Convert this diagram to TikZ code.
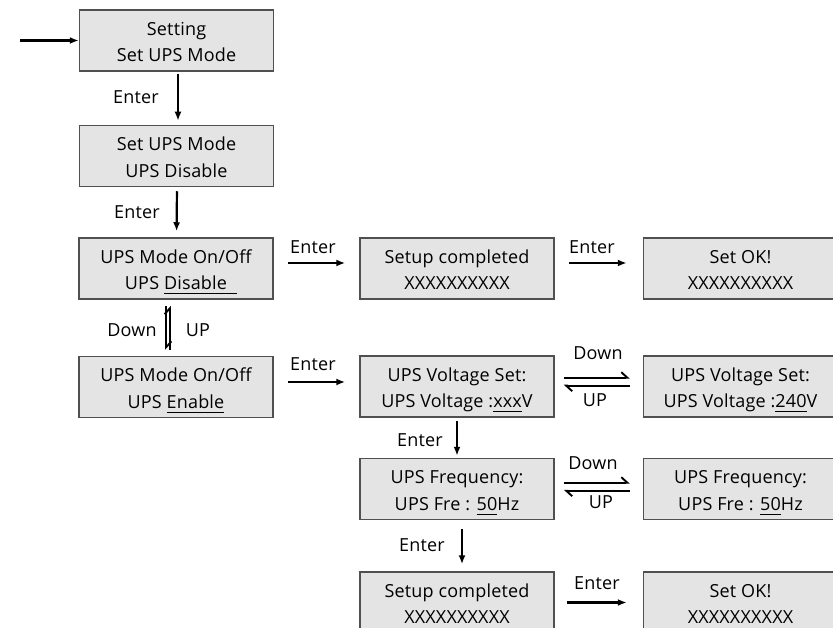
\documentclass[tikz,border=0pt]{standalone}
\usepackage{fontspec}
\setmainfont{Open Sans}[LetterSpace=1]
\usetikzlibrary{arrows.meta}
\definecolor{boxfill}{HTML}{E4E4E4}
\definecolor{boxline}{HTML}{505050}
\newcommand\ulbar[2][0pt]{\setbox0\hbox{#2}\rlap{\rule[-4.7pt]{\dimexpr\wd0+#1\relax}{1.4pt}}\box0}
\newcommand\topstrut{\rule{0pt}{22pt}}
\newcommand\botstrut{\rule[-6pt]{0pt}{6pt}}
\begin{document}
\begin{tikzpicture}[x=1pt,y=-1pt,
  screen/.style={draw=boxline, fill=boxfill, line width=1.5pt, minimum width=194pt,
    minimum height=61pt, inner sep=0pt, align=center, font=\fontsize{18}{26.5}\selectfont},
  arr/.style={line width=2.2pt, -{Latex[length=9pt,width=7pt]}},
  harp/.style={line width=1.9pt, -{Straight Barb[left,length=6pt,width=11pt]}},
  lbl/.style={font=\fontsize{18}{20}\selectfont, inner sep=0pt}]
\useasboundingbox (0,0) rectangle (833,628);
\clip (0,0) rectangle (833,628);
% screens
\node[screen] (b1) at (176.5,40.5) {\topstrut Setting\\Set UPS Mode\botstrut};
\node[screen] (b2) at (176.5,156) {\topstrut Set UPS Mode\\UPS Disable\botstrut};
\node[screen] (b3) at (176,268.5) {\topstrut UPS Mode On/Off\\UPS \ulbar[10pt]{Disable}\botstrut};
\node[screen] (b4) at (176,387) {\topstrut UPS Mode On/Off\\UPS \ulbar{Enable}\botstrut};
\node[screen] (b5) at (457,268.5) {\topstrut Setup completed\\XXXXXXXXXX\botstrut};
\node[screen] (b6) at (740.5,268.5) {\topstrut Set OK!\\XXXXXXXXXX\botstrut};
\node[screen] (b7) at (457,386.5) {\topstrut UPS Voltage Set:\\UPS Voltage :\ulbar{xxx}V\botstrut};
\node[screen] (b8) at (740.5,386.5) {\topstrut UPS Voltage Set:\\UPS Voltage :\ulbar{240}V\botstrut};
\node[screen] (b9) at (457,489) {\topstrut UPS Frequency:\\UPS Fre : \ulbar{50}Hz\botstrut};
\node[screen] (b10) at (740.5,489) {\topstrut UPS Frequency:\\UPS Fre : \ulbar{50}Hz\botstrut};
\node[screen] (b11) at (457,602.5) {\topstrut Setup completed\\XXXXXXXXXX\botstrut};
\node[screen] (b12) at (740.5,602.5) {\topstrut Set OK!\\XXXXXXXXXX\botstrut};
% connectors
\coordinate (in) at (20,40.5);
\draw[arr] (in) -- (b1.west);
\draw[arr, shorten <=2pt, shorten >=4pt] ([xshift=1.5pt]b1.south) -- ([xshift=1.5pt]b2.north);
\draw[arr, shorten <=4pt, shorten >=6pt] ([xshift=0.5pt]b2.south) -- ([xshift=0.5pt]b3.north);
\draw[harp, shorten <=6pt, shorten >=6pt] ([xshift=-10pt]b3.south) -- ([xshift=-10pt]b4.north);
\draw[harp, shorten <=6pt, shorten >=6pt] ([xshift=-6pt]b4.north) -- ([xshift=-6pt]b3.south);
\draw[arr, shorten <=14pt, shorten >=14pt] ([yshift=5.5pt]b3.east) -- ([yshift=5.5pt]b5.west);
\draw[arr, shorten <=14pt, shorten >=16pt] ([yshift=5.5pt]b5.east) -- ([yshift=5.5pt]b6.west);
\draw[arr, shorten <=14pt, shorten >=14pt] ([yshift=5pt]b4.east) -- ([yshift=4.5pt]b7.west);
\draw[harp, shorten <=9pt, shorten >=13pt] ([yshift=8.8pt]b7.east) -- ([yshift=8.8pt]b8.west);
\draw[harp, shorten <=13pt, shorten >=9pt] ([yshift=0.8pt]b8.west) -- ([yshift=0.8pt]b7.east);
\draw[arr, shorten <=3pt, shorten >=2pt] (b7.south) -- (b9.north);
\draw[harp, shorten <=9pt, shorten >=13pt] ([yshift=6.3pt]b9.east) -- ([yshift=6.3pt]b10.west);
\draw[harp, shorten <=13pt, shorten >=9pt] ([yshift=-1.7pt]b10.west) -- ([yshift=-1.7pt]b9.east);
\draw[arr, shorten <=9pt, shorten >=7pt] ([xshift=5pt]b9.south) -- ([xshift=5pt]b11.north);
\draw[arr, shorten <=12pt, shorten >=16pt] (b11.east) -- (b12.west);
% labels
\node[lbl] (l1) at (136,97) {Enter};
\node[lbl] (l2) at (137,212) {Enter};
\node[lbl] (l3) at (132,330) {Down};
\node[lbl] (l4) at (198,330) {UP};
\node[lbl] (l5) at (313,247) {Enter};
\node[lbl] (l6) at (313,364) {Enter};
\node[lbl] (l7) at (592,247) {Enter};
\node[lbl] (l8) at (598,353) {Down};
\node[lbl] (l9) at (595,400) {UP};
\node[lbl] (l10) at (420,440) {Enter};
\node[lbl] (l11) at (593,463) {Down};
\node[lbl] (l12) at (601,502) {UP};
\node[lbl] (l13) at (422,545) {Enter};
\node[lbl] (l14) at (597,583) {Enter};
\end{tikzpicture}
\end{document}
